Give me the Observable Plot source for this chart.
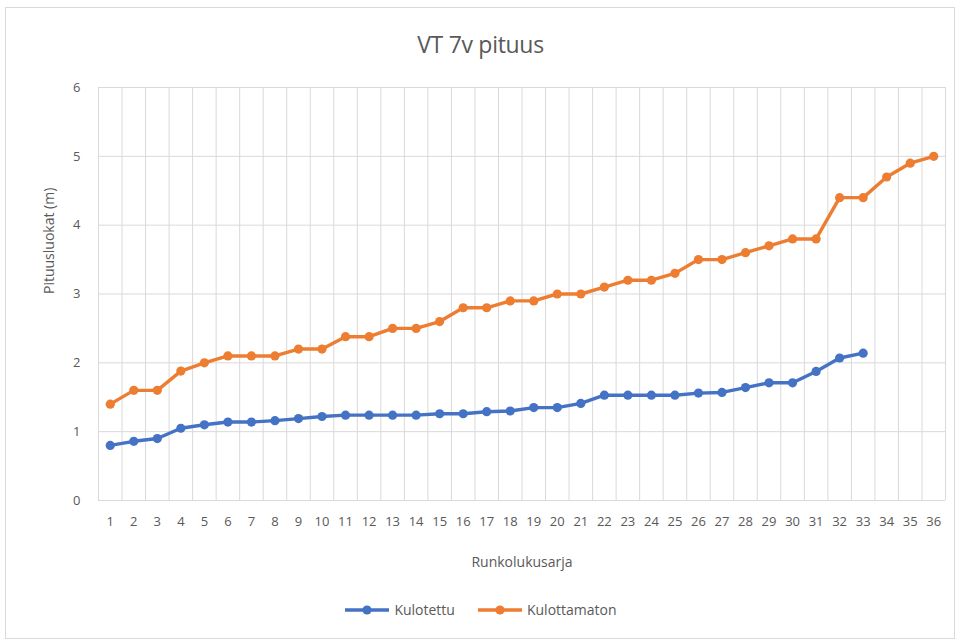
<!DOCTYPE html>
<html>
<head>
<meta charset="utf-8">
<script src="https://cdn.jsdelivr.net/npm/d3@7"></script>
<script src="https://cdn.jsdelivr.net/npm/@observablehq/plot@0.6"></script>
<style>
  html, body { margin: 0; padding: 0; background: #fff; }
  #frame { position: absolute; left: 5px; top: 7px; width: 950px; height: 632px; border: 1px solid #d9d9d9; box-sizing: border-box; }
  #title { position: absolute; left: 0; top: 28px; width: 961px; text-align: center; font-family: "Open Sans", sans-serif; font-size: 23px; color: #595959; font-weight: 400; letter-spacing: -0.3px; }
  #chart { position: absolute; left: 0; top: 70px; }
  #legend { position: absolute; left: 0; top: 600px; width: 961px; display: flex; justify-content: center; gap: 22px; font-family: "Open Sans", sans-serif; font-size: 14px; color: #595959; }
  .item { display: flex; align-items: center; gap: 4px; }
</style>
</head>
<body>
<div id="frame"></div>
<div id="title">VT 7v pituus</div>
<div id="chart"></div>
<div id="legend"></div>
<script>
const categories = d3.range(1, 37);
const seriesNames = ["Kulotettu", "Kulottamaton"];
const seriesColors = ["#4472C4", "#ED7D31"];
const kulotettu = [0.80, 0.86, 0.90, 1.05, 1.10, 1.14, 1.14, 1.16, 1.19, 1.22, 1.24, 1.24, 1.24, 1.24, 1.26, 1.26, 1.29, 1.30, 1.35, 1.35, 1.41, 1.53, 1.53, 1.53, 1.53, 1.56, 1.57, 1.64, 1.71, 1.71, 1.875, 2.07, 2.14];
const kulottamaton = [1.40, 1.60, 1.60, 1.88, 2.00, 2.10, 2.10, 2.10, 2.20, 2.20, 2.38, 2.38, 2.50, 2.50, 2.60, 2.80, 2.80, 2.90, 2.90, 3.00, 3.00, 3.10, 3.20, 3.20, 3.30, 3.50, 3.50, 3.60, 3.70, 3.80, 3.80, 4.40, 4.40, 4.70, 4.90, 5.00];
const yTicks = [0, 1, 2, 3, 4, 5, 6];

const data = [];
[kulotettu, kulottamaton].forEach((vals, s) => {
  vals.forEach((v, i) => data.push({ series: seriesNames[s], x: categories[i], y: v }));
});
const bounds = categories.map(c => c - 0.5).concat([categories[categories.length - 1] + 0.5]);

const textColor = "#595959";
const plot = Plot.plot({
  width: 961,
  height: 510,
  marginTop: 17,
  marginBottom: 80,
  marginLeft: 98,
  marginRight: 16,
  style: { fontFamily: "'Open Sans', sans-serif", fontSize: "13px", color: textColor, background: "transparent" },
  x: { domain: [0.5, 36.5], label: null },
  y: { domain: [0, 6], label: null },
  color: { domain: seriesNames, range: seriesColors },
  marks: [
    Plot.ruleX(bounds, { stroke: "#d9d9d9", strokeWidth: 1 }),
    Plot.ruleY(yTicks, { stroke: "#d9d9d9", strokeWidth: 1 }),
    Plot.axisX(categories, { tickSize: 0, tickPadding: 16, fontSize: 13, fill: textColor, label: null, tickFormat: "d" }),
    Plot.axisY(yTicks, { tickSize: 0, tickPadding: 18, fontSize: 13, fill: textColor, label: null, tickFormat: "d" }),
    Plot.text(["Runkolukusarja"], { frameAnchor: "bottom", dy: 66, fontSize: 14, fill: textColor }),
    Plot.text(["Pituusluokat (m)"], { frameAnchor: "left", dx: -49, rotate: -90, fontSize: 14, fill: textColor }),
    Plot.line(data, { x: "x", y: "y", z: "series", stroke: "series", strokeWidth: 3.4, curve: "linear" }),
    Plot.dot(data, { x: "x", y: "y", fill: "series", r: 4.6, stroke: "none" })
  ]
});
document.getElementById("chart").appendChild(plot);

const legend = document.getElementById("legend");
seriesNames.forEach((n, i) => {
  const item = document.createElement("div");
  item.className = "item";
  item.innerHTML = `<svg width="46" height="12"><line x1="1" y1="6" x2="45" y2="6" stroke="${seriesColors[i]}" stroke-width="3.4"/><circle cx="23" cy="6" r="4.6" fill="${seriesColors[i]}"/></svg><span>${n}</span>`;
  legend.appendChild(item);
});
</script>
</body>
</html>
